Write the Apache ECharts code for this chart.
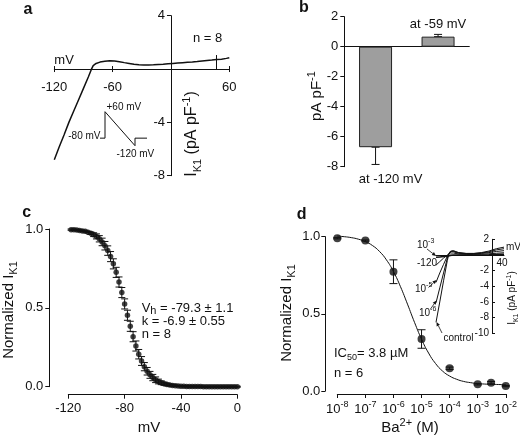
<!DOCTYPE html>
<html><head><meta charset="utf-8">
<script src="https://cdn.jsdelivr.net/npm/echarts@6/dist/echarts.min.js"></script>
<style>html,body{margin:0;padding:0;background:#fff}#c{width:520px;height:437px}</style>
</head><body><div id="c"></div>
<script>
// ---------- Panel a: I-V ramp trace ----------
const ivVoltage = [-120,-115,-110,-105,-100,-95,-90,-85,-82,-80,-77,-73,-68,-63,-58,-53,-48,-43,-38,-33,-28,-23,-18,-13,-8,-3,2,7,12,17,22,27,32,37,42,47,52,57,60];
const ivCurrent = [-6.8,-5.85,-4.95,-4.0,-3.15,-2.3,-1.45,-0.6,-0.05,0.25,0.42,0.52,0.58,0.62,0.6,0.55,0.48,0.42,0.36,0.33,0.31,0.31,0.32,0.34,0.36,0.39,0.42,0.45,0.48,0.51,0.53,0.56,0.6,0.64,0.67,0.71,0.74,0.8,0.85];
const ivTicks = [-120,-60,60];
// voltage protocol (inset of a)
const protoTime = [0,5,5,35,35,47];
const protoVoltage = [-80,-80,60,-120,-80,-80];

// ---------- Panel b ----------
const barCategories = ['at -120 mV','at -59 mV'];
const barValues = [-6.7, 0.67];
const barErrors = [1.15, 0.15];

// ---------- Panel c ----------
const actVoltage = [-118,-116,-114,-112,-110,-108,-106,-104,-102,-100,-98,-96,-94,-92,-90,-88,-86,-84,-82,-80,-78,-76,-74,-72,-70,-68,-66,-64,-62,-60,-58,-56,-54,-52,-50,-48,-46,-44,-42,-40,-38,-36,-34,-32,-30,-28,-26,-24,-22,-20,-18,-16,-14,-12,-10,-8,-6,-4,-2,0];
const actNorm = [0.996,0.995,0.994,0.991,0.988,0.985,0.980,0.973,0.964,0.953,0.938,0.918,0.894,0.863,0.825,0.779,0.725,0.664,0.597,0.525,0.453,0.383,0.317,0.258,0.206,0.163,0.127,0.098,0.075,0.058,0.044,0.033,0.025,0.019,0.014,0.011,0.008,0.006,0.005,0.003,0.003,0.002,0.002,0.001,0.001,0.001,0.001,0,0,0,0,0,0,0,0,0,0,0,0,0];
const actErr = [0.004,0.004,0.004,0.004,0.004,0.004,0.004,0.008,0.012,0.016,0.02,0.024,0.027,0.03,0.032,0.032,0.032,0.032,0.032,0.032,0.032,0.032,0.032,0.032,0.03,0.028,0.026,0.024,0.022,0.02,0.018,0.015,0.012,0.01,0.008,0.006,0.005,0.004,0.003,0.003,0.003,0.003,0.003,0.003,0.003,0.003,0.003,0.003,0.003,0.003,0.003,0.003,0.003,0.003,0.003,0.003,0.003,0.003,0.003,0.003];

// ---------- Panel d ----------
const baConc = [1e-8,1e-7,1e-6,1e-5,1e-4,1e-3,3e-3,1e-2];
const baNorm = [0.99,0.975,0.773,0.337,0.147,0.043,0.054,0.032];
const baErr = [0.004,0.004,0.077,0.06,0.008,0.004,0.008,0.004];
const fitConc = [1e-8,1.78e-8,3.16e-8,5.62e-8,1e-7,1.78e-7,3.16e-7,5.62e-7,1e-6,1.78e-6,3.16e-6,5.62e-6,1e-5,1.78e-5,3.16e-5,5.62e-5,1e-4,1.78e-4,3.16e-4,5.62e-4,1e-3,1.78e-3,3.16e-3,5.62e-3,1e-2];
const fitNorm = [1.004,1.000,0.994,0.984,0.968,0.943,0.905,0.850,0.774,0.676,0.563,0.445,0.336,0.246,0.178,0.129,0.097,0.076,0.062,0.054,0.048,0.045,0.043,0.042,0.041];

// inset of d: ramp currents in Ba2+
const insetVoltage = [-120,-110,-100,-90,-86,-82,-78,-74,-70,-60,-40,-20,0,20,40,60];
const insetControl = [-8.6,-6.0,-3.3,-0.7,0.1,0.45,0.6,0.55,0.45,0.3,0.2,0.2,0.3,0.5,0.8,1.0];
const inset1e6 = [-6.1,-4.2,-2.3,-0.4,0.15,0.45,0.55,0.5,0.4,0.28,0.18,0.18,0.25,0.4,0.65,0.8];
const inset1e5 = [-3.5,-2.3,-1.2,-0.15,0.15,0.4,0.5,0.45,0.35,0.22,0.15,0.15,0.2,0.3,0.45,0.55];
const inset1e4 = [-1.3,-0.85,-0.4,0.0,0.1,0.25,0.3,0.25,0.2,0.12,0.08,0.08,0.1,0.15,0.22,0.28];
const inset1e3 = [-0.3,-0.25,-0.2,-0.15,-0.1,-0.05,0,0,0,0,0,0,0,0.02,0.05,0.08];
const insetYTicks = [2,-2,-4,-6,-8,-10];

// ---------- build ----------
const FONT = '"Liberation Sans", Arial, Helvetica, sans-serif';
const INK = '#111';
const zip = (a, b) => a.map((v, i) => [v, b[i]]);
const lineStyle = { color: INK, width: 1 };
const lbl = (extra) => Object.assign({ fontFamily: FONT, fontSize: 13, color: INK }, extra || {});

function errRender(cap) {
  return function (params, api) {
    const x = api.value(0);
    const p1 = api.coord([x, api.value(1)]);
    const p2 = api.coord([x, api.value(2)]);
    const st = { stroke: INK, lineWidth: 1, fill: null };
    return { type: 'group', children: [
      { type: 'line', shape: { x1: p1[0], y1: p1[1], x2: p2[0], y2: p2[1] }, style: st },
      { type: 'line', shape: { x1: p1[0] - cap, y1: p1[1], x2: p1[0] + cap, y2: p1[1] }, style: st },
      { type: 'line', shape: { x1: p2[0] - cap, y1: p2[1], x2: p2[0] + cap, y2: p2[1] }, style: st }
    ]};
  };
}

function richOf(size, small) {
  return {
    t: { fontFamily: FONT, fontSize: size, color: INK, lineHeight: Math.round(size * 1.4) },
    sub: { fontFamily: FONT, fontSize: small, color: INK, lineHeight: small, verticalAlign: 'bottom' },
    sup: { fontFamily: FONT, fontSize: small, color: INK, lineHeight: small, verticalAlign: 'top' }
  };
}
const richT = richOf(15, 11);
const richA = richOf(16, 11);
const richS = richOf(10, 7);
function txt(x, y, text, opt) {
  opt = opt || {};
  return { type: 'text', x: x, y: y, rotation: opt.rot || 0, z: 100,
    style: { text: text, rich: opt.rich || richT, fontFamily: FONT, fontSize: opt.size || 13,
      fontWeight: opt.bold ? 'bold' : 'normal', fill: INK,
      align: opt.align || 'center', verticalAlign: 'middle' } };
}
function arrow(x1, y1, x2, y2) {
  const a = Math.atan2(y2 - y1, x2 - x1), L = 4, W = 1.8;
  const bx = x2 - L * Math.cos(a), by = y2 - L * Math.sin(a);
  return { type: 'group', z: 100, children: [
    { type: 'line', shape: { x1: x1, y1: y1, x2: bx, y2: by }, style: { stroke: INK, lineWidth: 0.8 } },
    { type: 'polygon', shape: { points: [[x2, y2], [bx - W * Math.sin(a), by + W * Math.cos(a)], [bx + W * Math.sin(a), by - W * Math.cos(a)]] }, style: { fill: INK } }
  ]};
}

// panel a geometry: x axis sits at I = 0, y axis at V = 0
const A_LEFT = 54.3, A_TOP = 15.7, A_W = 175, A_H = 160;
const aXOffset = -(A_H * 8 / 12);          // move x axis from bottom (-8) up to 0
const aYOffset = -(A_W * 120 / 180);       // move y axis from left (-120) right to 0

const option = {
  animation: false,
  backgroundColor: '#fff',
  grid: [
    { left: A_LEFT, top: A_TOP, width: A_W, height: A_H },   // a
    { left: 344.3, top: 16.7, width: 125, height: 150 },     // b
    { left: 100, top: 111.7, width: 47, height: 34 },         // protocol
    { left: 68.3, top: 229, width: 169, height: 157.7 },      // c
    { left: 337.3, top: 236.7, width: 169.4, height: 154.3 }, // d
    { left: 436, top: 239.3, width: 68, height: 94 }          // d inset
  ],
  xAxis: [
    { gridIndex: 0, type: 'value', min: -120, max: 60, interval: 60, position: 'bottom', offset: aXOffset,
      axisLine: { onZero: false, lineStyle: lineStyle }, splitLine: { show: false },
      axisTick: { inside: true, length: 3, lineStyle: lineStyle },
      axisLabel: lbl({ margin: 12, formatter: v => ivTicks.indexOf(v) >= 0 ? String(v) : '' }) },
    { gridIndex: 1, type: 'category', data: barCategories,
      axisLine: { onZero: true, lineStyle: lineStyle }, axisTick: { show: false }, axisLabel: { show: false } },
    { gridIndex: 2, type: 'value', min: 0, max: 47, show: false },
    { gridIndex: 3, type: 'value', min: -120, max: 0, interval: 40, offset: 8,
      axisLine: { onZero: false, lineStyle: lineStyle }, splitLine: { show: false },
      axisTick: { length: 4, lineStyle: lineStyle }, axisLabel: lbl({ margin: 7 }) },
    { gridIndex: 4, type: 'log', logBase: 10, min: 1e-8, max: 1e-2, offset: 3,
      axisLine: { onZero: false, lineStyle: lineStyle }, splitLine: { show: false }, minorTick: { show: false },
      axisTick: { length: 4, lineStyle: lineStyle },
      axisLabel: { margin: 6, formatter: v => '{b|10}{s|' + Math.round(Math.log10(v)) + '}',
        rich: { b: { fontFamily: FONT, fontSize: 13, color: INK, lineHeight: 18 },
                s: { fontFamily: FONT, fontSize: 9, color: INK, lineHeight: 9, verticalAlign: 'top' } } } },
    { gridIndex: 5, type: 'value', min: -120, max: 60,
      axisLine: { onZero: true, lineStyle: lineStyle }, splitLine: { show: false },
      axisTick: { show: false }, axisLabel: { show: false } },
    { gridIndex: 0, type: 'value', min: -120, max: 60, interval: 60, position: 'bottom', offset: aXOffset,
      axisLine: { show: false, onZero: false }, splitLine: { show: false },
      axisTick: { show: true, inside: false, length: 3, lineStyle: lineStyle }, axisLabel: { show: false } }
  ],
  yAxis: [
    { gridIndex: 0, type: 'value', min: -8, max: 4, interval: 4, position: 'left', offset: aYOffset,
      axisLine: { onZero: false, lineStyle: lineStyle }, splitLine: { show: false },
      axisTick: { length: 4, lineStyle: lineStyle },
      axisLabel: lbl({ margin: 6, formatter: v => v === 0 ? '' : String(v) }) },
    { gridIndex: 1, type: 'value', min: -8, max: 2, interval: 2,
      axisLine: { show: true, onZero: false, lineStyle: lineStyle }, splitLine: { show: false },
      axisTick: { show: true, length: 4, lineStyle: lineStyle }, axisLabel: lbl({ margin: 6 }) },
    { gridIndex: 2, type: 'value', min: -120, max: 60, show: false },
    { gridIndex: 3, type: 'value', min: 0, max: 1, interval: 0.5, offset: 19,
      axisLine: { show: true, onZero: false, lineStyle: lineStyle }, splitLine: { show: false },
      axisTick: { show: true, length: 4, lineStyle: lineStyle },
      axisLabel: lbl({ margin: 6, formatter: v => v.toFixed(1) }) },
    { gridIndex: 4, type: 'value', min: 0, max: 1, interval: 0.5, offset: 12,
      axisLine: { show: true, onZero: false, lineStyle: lineStyle }, splitLine: { show: false },
      axisTick: { show: true, length: 4, lineStyle: lineStyle },
      axisLabel: lbl({ margin: 5, formatter: v => v.toFixed(1) }) },
    { gridIndex: 5, type: 'value', min: -10, max: 2, interval: 2, position: 'right', offset: -12,
      axisLine: { show: true, onZero: false, lineStyle: lineStyle }, splitLine: { show: false },
      axisTick: { show: true, inside: false, length: 3, lineStyle: lineStyle },
      axisLabel: lbl({ inside: true, fontSize: 10, margin: 3, formatter: v => insetYTicks.indexOf(v) >= 0 ? String(v) : '' }) }
  ],
  series: [
    { type: 'line', xAxisIndex: 0, yAxisIndex: 0, data: zip(ivVoltage, ivCurrent), showSymbol: false,
      lineStyle: { color: INK, width: 1.5 }, clip: false,
      markLine: { silent: true, symbol: 'none', label: { show: false }, lineStyle: { color: INK, width: 1, type: 'solid' },
        data: [[{ coord: [47, 0] }, { coord: [47, 1.05] }]] } },
    { type: 'bar', xAxisIndex: 1, yAxisIndex: 1, barWidth: 33,
      itemStyle: { color: '#9e9e9e', borderColor: '#222', borderWidth: 1 },
      data: barValues.map((v, i) => ({ value: v, label: { show: true, position: v < 0 ? 'bottom' : 'top',
        distance: v < 0 ? 26 : 6, offset: v < 0 ? [15, 0] : [0, 0], formatter: barCategories[i],
        fontFamily: FONT, fontSize: 13, color: INK } })) },
    { type: 'custom', xAxisIndex: 1, yAxisIndex: 1, renderItem: errRender(4), clip: false,
      data: barValues.map((v, i) => [i, v, v < 0 ? v - barErrors[i] : v + barErrors[i]]) },
    { type: 'line', xAxisIndex: 2, yAxisIndex: 2, data: zip(protoTime, protoVoltage), showSymbol: false,
      lineStyle: { color: INK, width: 1 }, clip: false },
    { type: 'custom', xAxisIndex: 3, yAxisIndex: 3, renderItem: errRender(3.5), clip: false,
      data: actVoltage.map((v, i) => [v, actNorm[i] - actErr[i], actNorm[i] + actErr[i]]) },
    { type: 'scatter', xAxisIndex: 3, yAxisIndex: 3, data: zip(actVoltage, actNorm), symbolSize: 5.5,
      itemStyle: { color: INK }, clip: false },
    { type: 'line', xAxisIndex: 4, yAxisIndex: 4, data: zip(fitConc, fitNorm), showSymbol: false, smooth: true,
      lineStyle: { color: INK, width: 1 }, clip: false },
    { type: 'custom', xAxisIndex: 4, yAxisIndex: 4, renderItem: errRender(4), clip: false,
      data: baConc.map((c, i) => [c, baNorm[i] - baErr[i], baNorm[i] + baErr[i]]) },
    { type: 'scatter', xAxisIndex: 4, yAxisIndex: 4, data: zip(baConc, baNorm), symbolSize: 8,
      itemStyle: { color: INK }, clip: false },
    { type: 'line', xAxisIndex: 5, yAxisIndex: 5, data: zip(insetVoltage, inset1e3), showSymbol: false, lineStyle: { color: INK, width: 1.6 }, z: 5 },
    { type: 'line', xAxisIndex: 5, yAxisIndex: 5, data: zip(insetVoltage, inset1e4), showSymbol: false, lineStyle: { color: INK, width: 1 }, z: 5 },
    { type: 'line', xAxisIndex: 5, yAxisIndex: 5, data: zip(insetVoltage, inset1e5), showSymbol: false, lineStyle: { color: INK, width: 1 }, z: 5 },
    { type: 'line', xAxisIndex: 5, yAxisIndex: 5, data: zip(insetVoltage, inset1e6), showSymbol: false, lineStyle: { color: INK, width: 1 }, z: 5 },
    { type: 'line', xAxisIndex: 5, yAxisIndex: 5, data: zip(insetVoltage, insetControl), showSymbol: false, lineStyle: { color: INK, width: 1 }, z: 5 }
  ],
  graphic: [
    txt(28, 9.5, 'a', { bold: true, size: 16 }),
    txt(303.8, 8, 'b', { bold: true, size: 16 }),
    txt(26.7, 213, 'c', { bold: true, size: 16 }),
    txt(301.7, 214.5, 'd', { bold: true, size: 16 }),
    // panel a
    txt(54.3, 60, 'mV', { align: 'left' }),
    txt(193, 38, 'n = 8', { align: 'left' }),
    txt(192, 134, '{t|I}{sub|K1}{t| (pA pF}{sup|-1}{t|)}', { rot: Math.PI / 2, rich: richA }),
    txt(106.5, 107.5, '+60 mV', { align: 'left', size: 10 }),
    txt(100.5, 136.7, '-80 mV', { align: 'right', size: 10 }),
    txt(116.5, 154, '-120 mV', { align: 'left', size: 10 }),
    // panel b
    txt(316.7, 96, '{t|pA pF}{sup|-1}', { rot: Math.PI / 2 }),
    // panel c
    txt(9, 310, '{t|Normalized I}{sub|K1}', { rot: Math.PI / 2 }),
    txt(149, 428, '{t|mV}'),
    txt(141.7, 308, '{a|V}{h|h}{a| = -79.3 ± 1.1}', { align: 'left', rich: {
      a: { fontFamily: FONT, fontSize: 13, color: INK, lineHeight: 17 },
      h: { fontFamily: FONT, fontSize: 11, color: INK, lineHeight: 11, verticalAlign: 'bottom' } } }),
    txt(141.7, 321.7, 'k = -6.9 ± 0.55', { align: 'left' }),
    txt(141.7, 334, 'n = 8', { align: 'left' }),
    // panel d
    txt(287, 313, '{t|Normalized I}{sub|K1}', { rot: Math.PI / 2 }),
    txt(410, 428, '{t|Ba}{sup|2+}{t| (M)}', {}),
    txt(334, 353, '{a|IC}{s|50}{a|= 3.8 µM}', { align: 'left', rich: {
      a: { fontFamily: FONT, fontSize: 13, color: INK, lineHeight: 18 },
      s: { fontFamily: FONT, fontSize: 9, color: INK, lineHeight: 9, verticalAlign: 'bottom' } } }),
    txt(334, 373, 'n = 6', { align: 'left' }),
    // inset of d
    txt(512.5, 298, '{t|I}{sub|K1}{t| (pA pF}{sup|-1}{t|)}', { rot: Math.PI / 2, rich: richS }),
    txt(506, 247, 'mV', { align: 'left', size: 10 }),
    txt(502, 263, '40', { size: 10 }),
    txt(437, 263, '-120', { align: 'right', size: 10 }),
    txt(417, 245, '{t|10}{sup|-3}', { align: 'left', rich: richS }),
    txt(415, 289, '{t|10}{sup|-5}', { align: 'left', rich: richS }),
    txt(419, 313, '{t|10}{sup|-6}', { align: 'left', rich: richS }),
    txt(443.5, 338, 'control', { align: 'left', size: 10 }),
    arrow(427, 249, 436, 256),
    arrow(428.5, 287.5, 436.5, 280),
    arrow(430.5, 309, 436.5, 300.5),
    arrow(442, 333, 436.5, 322)
  ]
};
const chart = echarts.init(document.getElementById('c'), null, { renderer: 'canvas' });
chart.setOption(option);
</script>
</body></html>
